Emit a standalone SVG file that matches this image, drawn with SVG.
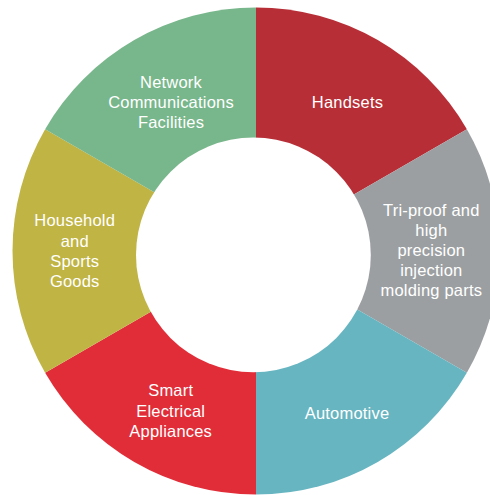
<svg xmlns="http://www.w3.org/2000/svg" width="490" height="495" viewBox="0 0 490 495">
  <style>
    .label { font-family: "Liberation Sans", Arial, Helvetica, sans-serif; font-size: 16.5px; fill: #ffffff; text-anchor: middle; letter-spacing: 0.2px; }
  </style>
  <rect width="490" height="495" fill="#ffffff"/>

  <!-- Ring segments: centre (256,251), outer radius 243.5, 60 degrees each -->
  <g id="handsets">
    <path d="M256,251 L256,7.5 A243.5,243.5 0 0 1 466.87,129.25 Z" fill="#B72E37"/>
    <text class="label" x="347.5" y="108">Handsets</text>
  </g>
  <g id="tri-proof">
    <path d="M256,251 L466.87,129.25 A243.5,243.5 0 0 1 466.87,372.75 Z" fill="#9C9FA2"/>
    <text class="label" x="431.3" y="216">Tri-proof and</text>
    <text class="label" x="431.3" y="236">high</text>
    <text class="label" x="431.3" y="256">precision</text>
    <text class="label" x="431.3" y="276">injection</text>
    <text class="label" x="431.3" y="296">molding parts</text>
  </g>
  <g id="automotive">
    <path d="M256,251 L466.87,372.75 A243.5,243.5 0 0 1 256,494.5 Z" fill="#67B5C1"/>
    <text class="label" x="347" y="419">Automotive</text>
  </g>
  <g id="smart-electrical">
    <path d="M256,251 L256,494.5 A243.5,243.5 0 0 1 45.13,372.75 Z" fill="#E12D38"/>
    <text class="label" x="170.7" y="396">Smart</text>
    <text class="label" x="170.7" y="416.5">Electrical</text>
    <text class="label" x="170.7" y="436.7">Appliances</text>
  </g>
  <g id="household">
    <path d="M256,251 L45.13,372.75 A243.5,243.5 0 0 1 45.13,129.25 Z" fill="#BFB444"/>
    <text class="label" x="74.7" y="225.7">Household</text>
    <text class="label" x="74.7" y="246.5">and</text>
    <text class="label" x="74.7" y="266.7">Sports</text>
    <text class="label" x="74.7" y="286.7">Goods</text>
  </g>
  <g id="network">
    <path d="M256,251 L45.13,129.25 A243.5,243.5 0 0 1 256,7.5 Z" fill="#78B68B"/>
    <text class="label" x="171" y="88.3">Network</text>
    <text class="label" x="171" y="108">Communications</text>
    <text class="label" x="171" y="128.3">Facilities</text>
  </g>

  <!-- Hollow centre -->
  <circle id="centre" cx="253.4" cy="254.9" r="117.4" fill="#ffffff"/>
</svg>
